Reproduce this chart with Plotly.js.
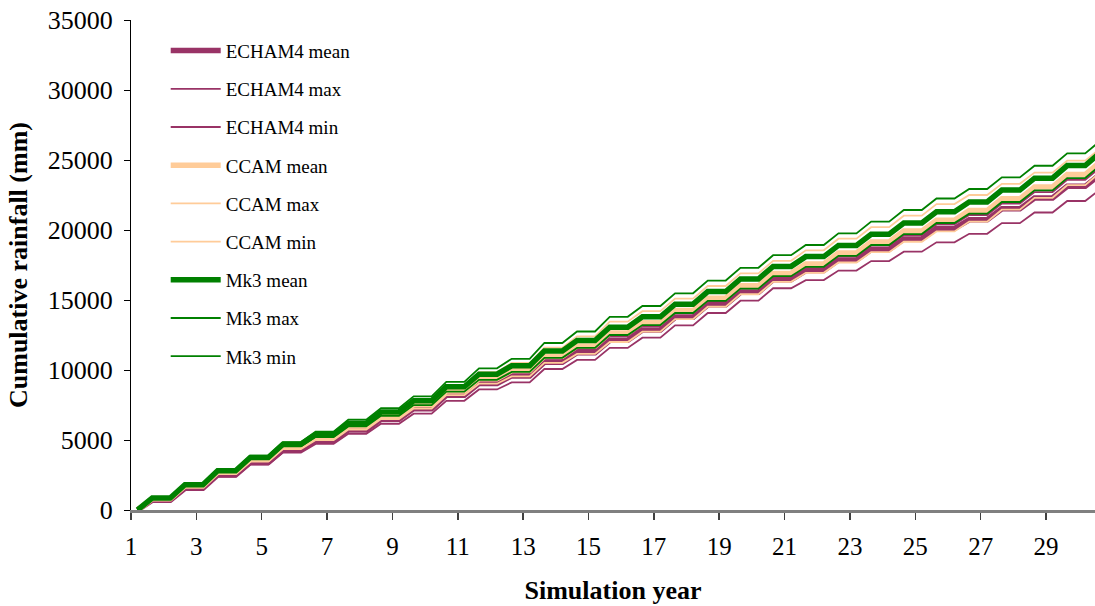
<!DOCTYPE html>
<html>
<head>
<meta charset="utf-8">
<script src="https://cdn.plot.ly/plotly-3.0.1.min.js"></script>
<style>
html,body{margin:0;padding:0;background:#fff;}
#chart{width:1095px;height:606px;}
</style>
</head>
<body>
<div id="chart"></div>
<script>
// Cumulative rainfall (mm) at the end of each wet season, simulation years 1..30
const years = [1,2,3,4,5,6,7,8,9,10,11,12,13,14,15,16,17,18,19,20,21,22,23,24,25,26,27,28,29,30];

const echamMean = [700,1550,2500,3400,4300,4960,5720,6480,7240,8200,9040,9580,10560,11240,12120,12865,13760,14655,15550,16450,17100,17850,18600,19350,20100,20730,21510,22290,23120,23950];
const echamMax  = [780,1650,2620,3530,4450,5120,5890,6660,7430,8400,9250,9800,10800,11500,12400,13140,14030,14920,15810,16700,17360,18120,18880,19640,20400,21070,21890,22710,23580,24450];
const echamMin  = [600,1450,2380,3250,4100,4720,5440,6160,6880,7800,8610,9120,10070,10720,11580,12310,13190,14070,14950,15840,16420,17100,17780,18450,19120,19730,20490,21250,22070,22890];

const ccamMean = [800,1720,2690,3620,4550,5220,6000,6760,7530,8500,9380,9960,10990,11720,12650,13380,14250,15130,16010,16900,17580,18360,19140,19920,20700,21390,22230,23070,23960,24850];
const ccamMax  = [850,1810,2820,3780,4740,5450,6260,7080,7890,8900,9850,10500,11600,12400,13450,14200,15100,16000,16900,17800,18550,19380,20200,21020,21850,22500,23300,24100,24950,25800];
const ccamMin  = [750,1630,2560,3450,4350,5000,5750,6500,7250,8200,9020,9540,10510,11150,12000,12740,13630,14520,15410,16300,16940,17680,18420,19160,19900,20600,21450,22300,23200,24100];

const mk3Mean = [850,1800,2800,3750,4700,5400,6200,7000,7800,8800,9700,10300,11350,12100,13050,13800,14700,15600,16500,17400,18100,18900,19700,20500,21300,22000,22850,23700,24600,25500];
const mk3Max  = [880,1860,2900,3880,4850,5600,6450,7280,8120,9150,10120,10800,11930,12750,13800,14570,15480,16390,17300,18200,18930,19760,20600,21430,22250,22930,23760,24590,25470,26350];
const mk3Min  = [830,1750,2720,3640,4550,5210,5970,6730,7490,8450,9300,9860,10870,11580,12500,13210,14070,14940,15810,16700,17370,18150,18930,19710,20500,21170,22000,22830,23710,24600];

const xTickVals = [1,3,5,7,9,11,13,15,17,19,21,23,25,27,29];
const yTickVals = [0,5000,10000,15000,20000,25000,30000,35000];

// wet season: rain accumulates from ~0.2 to ~0.65 of each simulation year, dry season flat
const WET_START = 0.2, WET_END = 0.65;
function stepSeries(cum){
  const xs = [years[0] + WET_START], ys = [0];
  for (let i = 0; i < years.length; i++){
    xs.push(years[i] + WET_END); ys.push(cum[i]);
    if (i < years.length - 1){ xs.push(years[i+1] + WET_START); ys.push(cum[i]); }
  }
  return {x: xs, y: ys};
}

const PLUM = '#993366', TAN = '#FFCC99', GREEN = '#008000';
const series = [
  ['ECHAM4 mean', echamMean, PLUM, 5.5],
  ['ECHAM4 max',  echamMax,  PLUM, 1.8],
  ['ECHAM4 min',  echamMin,  PLUM, 1.8],
  ['CCAM mean',   ccamMean,  TAN,  5.5],
  ['CCAM max',    ccamMax,   TAN,  1.8],
  ['CCAM min',    ccamMin,   TAN,  1.8],
  ['Mk3 mean',    mk3Mean,   GREEN,5.5],
  ['Mk3 max',     mk3Max,    GREEN,1.8],
  ['Mk3 min',     mk3Min,    GREEN,1.8]
];

const traces = series.map((s, i) => {
  const d = stepSeries(s[1]);
  return {
    type: 'scatter', mode: 'lines', name: s[0],
    x: d.x, y: d.y,
    line: {color: s[2], width: s[3], shape: 'linear'},
    legendgroup: 'g' + i,
    hoverinfo: 'x+y+name'
  };
});

const serif = '"Liberation Serif", "Times New Roman", serif';
const layout = {
  width: 1095, height: 606,
  margin: {l: 131, r: 0, t: 20, b: 96},
  paper_bgcolor: '#ffffff', plot_bgcolor: '#ffffff',
  font: {family: serif, color: '#000000', size: 20},
  showlegend: true,
  legend: {
    x: 0.036, y: 0.976, xanchor: 'left', yanchor: 'top',
    bgcolor: 'rgba(0,0,0,0)', borderwidth: 0,
    font: {family: serif, size: 19, color: '#000000'},
    tracegroupgap: 10.5, traceorder: 'grouped', itemwidth: 50
  },
  xaxis: {
    range: [1, 30.5], tickmode: 'array', tickvals: xTickVals,
    ticktext: xTickVals.map(String),
    showgrid: false, zeroline: false,
    showline: true, linecolor: '#808080', linewidth: 3,
    ticks: 'outside', ticklen: 7, tickwidth: 1.5, tickcolor: '#404040',
    ticklabelstandoff: 5,
    tickfont: {family: serif, size: 25, color: '#000000'},
    title: {text: 'Simulation year', font: {family: serif, size: 26, color: '#000000', weight: 'bold'}, standoff: 22}
  },
  yaxis: {
    range: [0, 35000], tickmode: 'array', tickvals: yTickVals,
    ticktext: yTickVals.map(String),
    showgrid: false, zeroline: false,
    showline: true, linecolor: '#000000', linewidth: 1,
    ticks: 'outside', ticklen: 6, tickwidth: 1, tickcolor: '#000000',
    ticklabelstandoff: 6,
    tickfont: {family: serif, size: 26, color: '#000000'},
    title: {text: 'Cumulative rainfall (mm)', font: {family: serif, size: 26, color: '#000000', weight: 'bold'}, standoff: 12}
  }
};

Plotly.newPlot('chart', traces, layout, {displayModeBar: false, staticPlot: true});
</script>
</body>
</html>
